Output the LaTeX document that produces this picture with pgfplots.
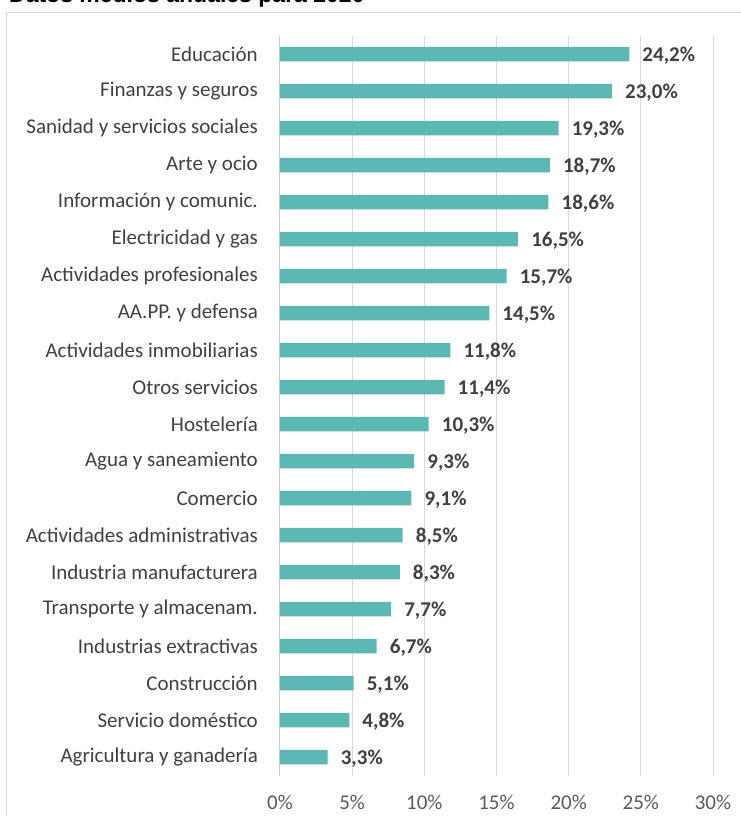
\documentclass[border=0pt]{standalone}
\usepackage{pgfplots}
\pgfplotsset{compat=1.18}
\usepackage{fontspec}
\setmainfont{Carlito}
\newfontfamily\titlefont{Liberation Sans}
\definecolor{barc}{RGB}{92,184,178}
\definecolor{labc}{RGB}{64,64,64}
\definecolor{tickc}{RGB}{89,89,89}
\definecolor{gridc}{RGB}{217,217,217}
\definecolor{framec}{RGB}{217,217,217}
\definecolor{axc}{RGB}{205,205,205}
\begin{document}
\begin{tikzpicture}
\path[use as bounding box] (-280bp,-40.5bp) rectangle (461bp,775.5bp);
\clip (-280bp,-40.5bp) rectangle (461bp,775.5bp);
\draw[framec, line width=1bp] (-273bp,-100bp) rectangle (600bp,762.5bp);
\node[anchor=base west, font=\titlefont\bfseries\fontsize{23bp}{27bp}\selectfont, inner sep=0pt] at (-271bp,773bp) {Datos medios anuales para 2020};
\begin{axis}[
  at={(0,0)}, anchor=south west,
  scale only axis, width=433bp, height=740bp,
  xmin=0, xmax=30, ymin=-0.5, ymax=19.5, y dir=reverse,
  xbar, bar width=14.5bp,
  axis x line*=bottom, axis y line*=left,
  x axis line style={draw=none},
  y axis line style={draw=axc, line width=1bp},
  major tick length=0pt,
  xmajorgrids, grid style={draw=gridc, line width=1bp},
  xtick={0,5,10,15,20,25,30},
  xticklabels={0\%,5\%,10\%,15\%,20\%,25\%,30\%},
  xticklabel style={font=\fontsize{21bp}{25bp}\selectfont, text=tickc, inner sep=0pt, anchor=north, yshift=-19bp},
  ytick={0,...,19},
  yticklabels={Educación,Finanzas y seguros,Sanidad y servicios sociales,Arte y ocio,Información y comunic.,Electricidad y gas,Actividades profesionales,AA.PP. y defensa,Actividades inmobiliarias,Otros servicios,Hostelería,Agua y saneamiento,Comercio,Actividades administrativas,Industria manufacturera,Transporte y almacenam.,Industrias extractivas,Construcción,Servicio doméstico,Agricultura y ganadería},
  yticklabel style={font=\fontsize{21bp}{25bp}\selectfont, text=labc, inner sep=0pt, anchor=east, xshift=-22bp},
  nodes near coords,
  point meta=explicit symbolic,
  every node near coord/.append style={font=\bfseries\fontsize{21bp}{25bp}\selectfont, text=labc, inner sep=0pt, anchor=west, xshift=13bp, yshift=-2bp},
]
\addplot[fill=barc, draw=none] coordinates {
(24.2,0) [24,2\%]
(23.0,1) [23,0\%]
(19.3,2) [19,3\%]
(18.7,3) [18,7\%]
(18.6,4) [18,6\%]
(16.5,5) [16,5\%]
(15.7,6) [15,7\%]
(14.5,7) [14,5\%]
(11.8,8) [11,8\%]
(11.4,9) [11,4\%]
(10.3,10) [10,3\%]
(9.3,11) [9,3\%]
(9.1,12) [9,1\%]
(8.5,13) [8,5\%]
(8.3,14) [8,3\%]
(7.7,15) [7,7\%]
(6.7,16) [6,7\%]
(5.1,17) [5,1\%]
(4.8,18) [4,8\%]
(3.3,19) [3,3\%]
};
\end{axis}
\end{tikzpicture}
\end{document}
